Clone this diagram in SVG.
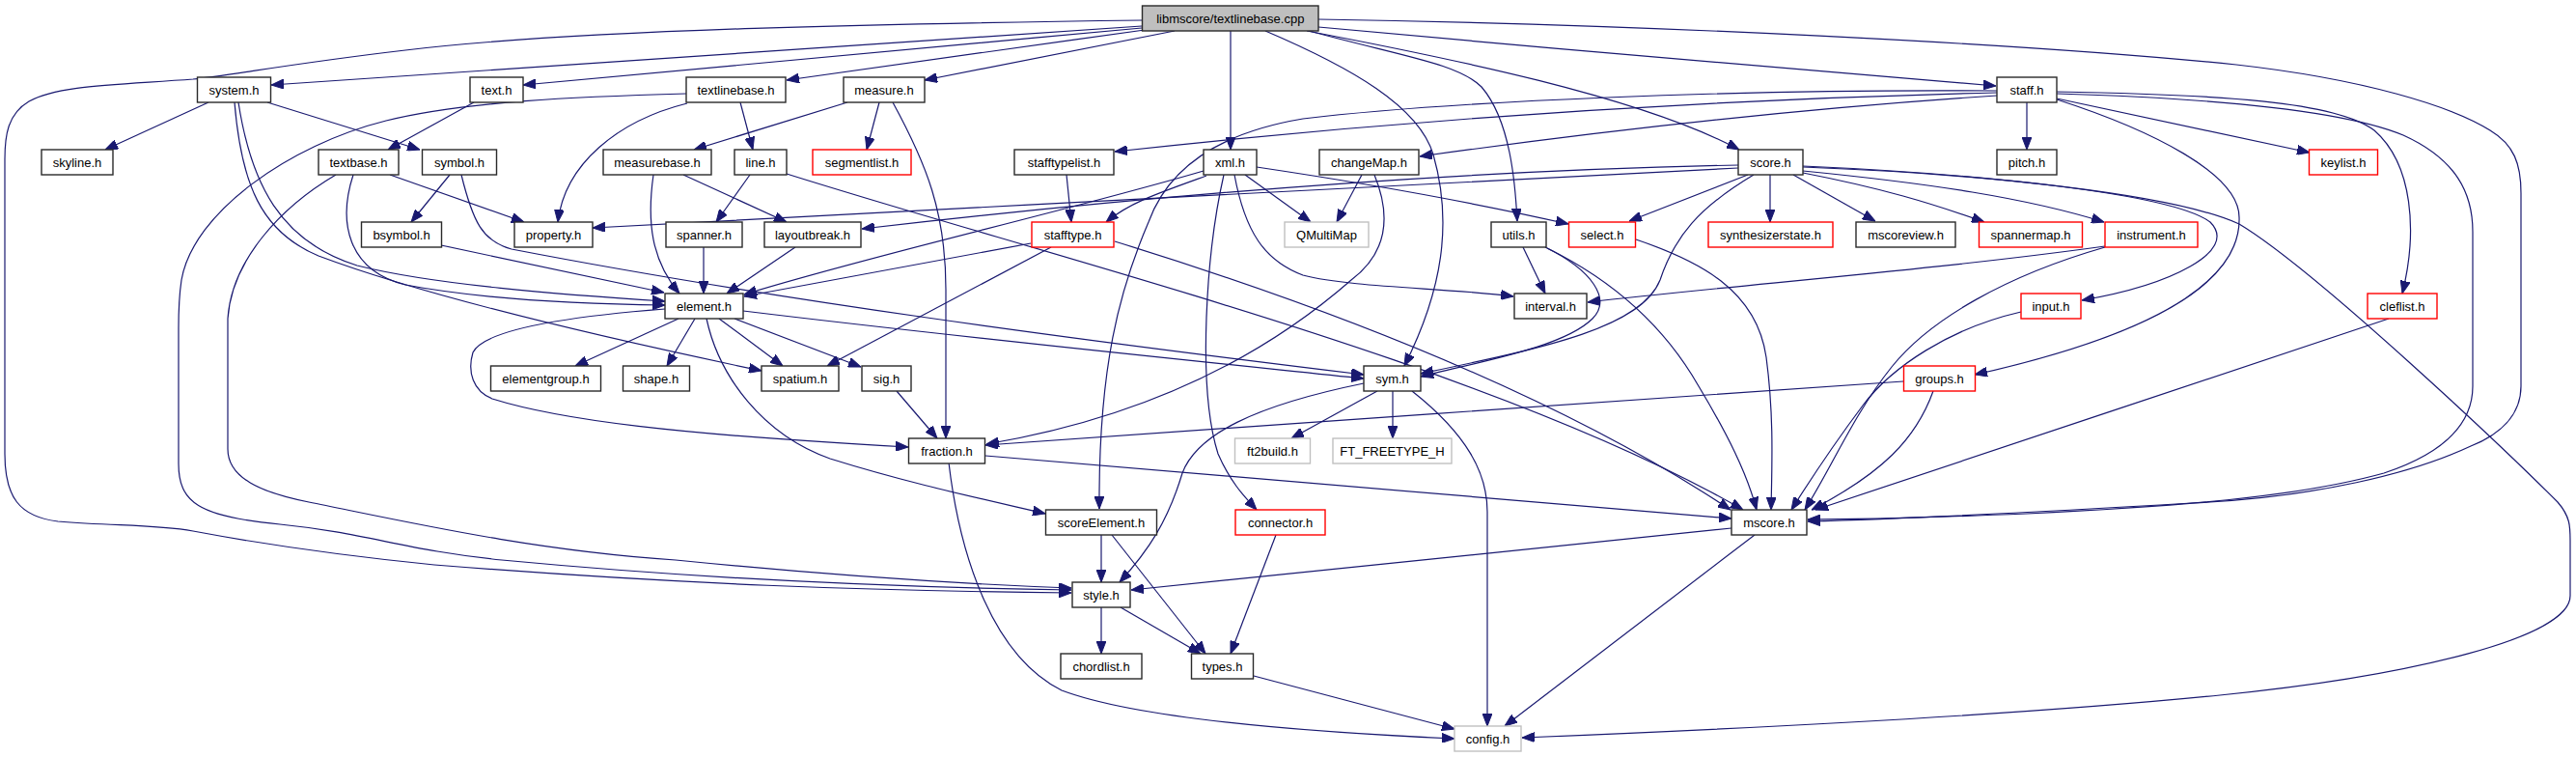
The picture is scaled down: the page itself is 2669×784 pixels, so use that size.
<svg xmlns="http://www.w3.org/2000/svg" width="2669" height="784" viewBox="0 0 2669 784">
<style>
rect{stroke-width:1.4}
.n rect{fill:#fff;stroke:#2a2a2a}
.r rect{fill:#fff;stroke:#ff0000}
.g rect{fill:#fff;stroke:#c0c0c0}
.root rect{fill:#bfbfbf;stroke:#2a2a2a}
text{font-family:"Liberation Sans",Arial,sans-serif;font-size:13px;fill:#000;text-anchor:middle}
#edges path{fill:none;stroke:#191970;stroke-width:1.2;marker-end:url(#ah)}
</style>
<defs>
<marker id="ah" viewBox="0 0 13 10" refX="13" refY="5" markerWidth="13" markerHeight="10" markerUnits="userSpaceOnUse" orient="auto">
<path d="M0,0 L13,5 L0,10 z" fill="#191970" stroke="#191970" stroke-width="1"/>
</marker>
</defs>
<rect width="2669" height="784" fill="#fff"/>
<g id="edges">
<path d="M1183,21 C950,24 600,30 420,52 C300,66 240,78 200,82 C120,88 60,88 30,105 C8,118 5,140 5,165 L5,470 C5,515 20,535 60,540 C120,545 160,543 200,550 C280,565 350,575 450,585 C700,605 900,612 1110,614"/>
<path d="M1183,27 C900,45 600,65 281,88"/>
<path d="M1183,29 C950,50 700,75 542,88"/>
<path d="M1186,31 C1050,50 900,70 815,83"/>
<path d="M1217,32 L958,83"/>
<path d="M1275,32 L1275,155"/>
<path d="M1311,32 C1400,70 1470,110 1485,160 C1505,230 1495,300 1455,379"/>
<path d="M1349,30 C1450,58 1510,65 1535,90 C1565,125 1570,190 1572,229"/>
<path d="M1354,32 C1500,60 1700,100 1802,155"/>
<path d="M1366,28 C1600,50 1900,75 2068,89"/>
<path d="M1366,20 C1700,25 2100,45 2317,67 C2450,82 2540,110 2580,135 C2605,150 2612,170 2612,200 L2612,400 C2612,430 2590,450 2560,462 C2500,490 2400,515 2271,521 C2120,530 1980,537 1873,540"/>
<path d="M2069,96 C1700,105 1400,130 1155,157"/>
<path d="M2069,99 C1900,110 1700,130 1471,162"/>
<path d="M2069,94 C1800,92 1500,105 1350,123 C1260,138 1210,175 1190,230 C1160,300 1138,380 1139,527"/>
<path d="M2100,106 L2100,155"/>
<path d="M2131,102 L2393,158"/>
<path d="M2131,95 C2300,98 2420,105 2460,135 C2500,170 2505,240 2489,304"/>
<path d="M2131,97 C2300,102 2430,115 2490,140 C2545,165 2562,200 2562,240 L2562,400 C2562,440 2530,470 2470,490 C2380,515 2250,525 2100,532 C2000,536 1930,538 1873,538"/>
<path d="M2131,103 C2230,135 2320,180 2320,225 C2322,280 2260,340 2046,388"/>
<path d="M1801,171 C1600,175 1300,190 893,237"/>
<path d="M1801,174 C1500,190 1000,215 614,236"/>
<path d="M1811,181 L1688,229"/>
<path d="M1834,181 L1834,230"/>
<path d="M1858,181 L1943,229"/>
<path d="M1868,179 C1950,195 2000,210 2056,230"/>
<path d="M1868,177 C2000,190 2100,205 2180,230"/>
<path d="M1868,172 C2050,180 2250,200 2290,230 C2320,260 2250,295 2157,311"/>
<path d="M1868,173 C2050,180 2250,200 2320,232 C2400,280 2600,470 2650,520 C2663,535 2663,545 2663,560 L2663,617 C2663,660 2500,700 2300,720 C2100,740 1800,755 1577,764"/>
<path d="M1817,181 C1760,215 1735,245 1720,290 C1700,340 1600,360 1472,387"/>
<path d="M1578,256 L1601,304"/>
<path d="M1601,256 C1650,280 1670,310 1650,330 C1620,360 1530,375 1472,390"/>
<path d="M1603,257 C1660,285 1720,330 1760,400 C1790,450 1810,490 1820,528"/>
<path d="M1695,248 C1760,270 1820,300 1830,370 C1838,430 1836,480 1835,528"/>
<path d="M2181,255 C2000,280 1800,295 1645,313"/>
<path d="M2181,256 C2080,285 2000,330 1960,380 C1920,430 1900,480 1870,528"/>
<path d="M2094,323 C2020,340 1960,380 1930,420 C1900,460 1880,490 1856,528"/>
<path d="M2003,405 C1985,455 1950,490 1877,528"/>
<path d="M1972,395 C1700,415 1300,440 1021,461"/>
<path d="M2475,330 C2300,390 2050,470 1881,528"/>
<path d="M1411,181 L1385,230"/>
<path d="M1424,181 C1440,220 1440,260 1400,290 C1320,360 1200,430 1022,460"/>
<path d="M1247,177 C1100,220 900,265 771,305"/>
<path d="M1250,182 C1200,200 1170,210 1146,230"/>
<path d="M1290,181 L1358,230"/>
<path d="M1302,173 C1450,195 1550,215 1625,232"/>
<path d="M1279,181 C1290,240 1310,270 1350,285 C1400,298 1500,298 1568,307"/>
<path d="M1268,181 C1250,260 1240,400 1262,470 C1275,500 1290,515 1302,528"/>
<path d="M1105,181 L1110,230"/>
<path d="M1068,252 L771,307"/>
<path d="M1089,256 L857,379"/>
<path d="M1155,250 C1350,310 1600,400 1793,528"/>
<path d="M777,181 L742,230"/>
<path d="M815,180 C1100,270 1550,380 1806,528"/>
<path d="M878,106 L719,155"/>
<path d="M911,106 L898,155"/>
<path d="M925,106 C960,170 980,220 980,300 L980,454"/>
<path d="M677,181 C670,230 675,270 704,304"/>
<path d="M708,181 L815,230"/>
<path d="M729,256 L729,304"/>
<path d="M824,256 L753,304"/>
<path d="M767,106 L780,155"/>
<path d="M712,107 C640,125 585,170 578,230"/>
<path d="M711,97 C600,100 480,105 400,125 C300,150 200,220 188,290 C185,310 185,330 185,340 L185,480 C185,520 205,535 290,543 C380,552 420,570 520,580 C700,597 900,608 1110,611"/>
<path d="M404,181 L543,230"/>
<path d="M366,181 C350,230 360,280 420,295 C500,310 600,315 689,316"/>
<path d="M348,181 C290,215 240,270 236,330 L236,465 C236,495 270,510 320,520 C420,540 550,570 700,580 C850,595 1000,605 1110,609"/>
<path d="M491,106 L402,155"/>
<path d="M216,106 L109,155"/>
<path d="M277,106 L435,155"/>
<path d="M247,106 C260,190 290,250 370,275 C450,295 580,305 689,312"/>
<path d="M243,106 C250,190 270,240 330,265 C450,310 650,355 789,384"/>
<path d="M466,181 L426,230"/>
<path d="M478,181 C490,230 500,250 530,258 C800,310 1100,350 1413,388"/>
<path d="M457,254 L688,303"/>
<path d="M703,330 L596,379"/>
<path d="M720,330 L691,379"/>
<path d="M745,330 L811,379"/>
<path d="M761,330 L892,380"/>
<path d="M770,322 C1000,350 1250,375 1413,392"/>
<path d="M689,320 C560,330 500,345 490,365 C484,385 490,405 510,413 C580,435 700,450 941,463"/>
<path d="M732,330 C745,390 790,450 860,475 C940,500 1010,515 1083,532"/>
<path d="M929,405 L971,454"/>
<path d="M1021,472 L1794,537"/>
<path d="M983,479 C995,580 1030,680 1100,715 C1180,745 1350,758 1507,765"/>
<path d="M1427,405 L1338,454"/>
<path d="M1443,405 L1443,454"/>
<path d="M1463,405 C1520,450 1541,490 1541,530 L1541,752"/>
<path d="M1413,397 C1300,420 1240,450 1225,490 C1210,540 1190,570 1160,603"/>
<path d="M1794,547 L1172,611"/>
<path d="M1818,554 L1559,752"/>
<path d="M1141,554 L1141,603"/>
<path d="M1152,554 L1249,677"/>
<path d="M1322,554 L1275,677"/>
<path d="M1141,629 L1141,677"/>
<path d="M1161,629 L1244,677"/>
<path d="M1299,700 L1507,755"/>
</g>
<g id="root" class="root"><rect x="1183.5" y="6" width="182.5" height="26"/><text x="1274.8" y="23.5">libmscore/textlinebase.cpp</text></g>
<g id="system_h" class="n"><rect x="204.5" y="80" width="76" height="26"/><text x="242.5" y="97.5">system.h</text></g>
<g id="text_h" class="n"><rect x="487" y="80" width="55" height="26"/><text x="514.5" y="97.5">text.h</text></g>
<g id="textlinebase_h" class="n"><rect x="711" y="80" width="103" height="26"/><text x="762.5" y="97.5">textlinebase.h</text></g>
<g id="measure_h" class="n"><rect x="874" y="80" width="84" height="26"/><text x="916" y="97.5">measure.h</text></g>
<g id="staff_h" class="n"><rect x="2069" y="80" width="62" height="26"/><text x="2100" y="97.5">staff.h</text></g>
<g id="skyline_h" class="n"><rect x="43" y="155" width="74" height="26"/><text x="80" y="172.5">skyline.h</text></g>
<g id="textbase_h" class="n"><rect x="330" y="155" width="83" height="26"/><text x="371.5" y="172.5">textbase.h</text></g>
<g id="symbol_h" class="n"><rect x="437.5" y="155" width="77" height="26"/><text x="476" y="172.5">symbol.h</text></g>
<g id="measurebase_h" class="n"><rect x="625" y="155" width="112" height="26"/><text x="681" y="172.5">measurebase.h</text></g>
<g id="line_h" class="n"><rect x="761" y="155" width="54" height="26"/><text x="788" y="172.5">line.h</text></g>
<g id="segmentlist_h" class="r"><rect x="842" y="155" width="102" height="26"/><text x="893" y="172.5">segmentlist.h</text></g>
<g id="stafftypelist_h" class="n"><rect x="1051" y="155" width="103" height="26"/><text x="1102.5" y="172.5">stafftypelist.h</text></g>
<g id="xml_h" class="n"><rect x="1247" y="155" width="55" height="26"/><text x="1274.5" y="172.5">xml.h</text></g>
<g id="changeMap_h" class="n"><rect x="1367" y="155" width="103" height="26"/><text x="1418.5" y="172.5">changeMap.h</text></g>
<g id="score_h" class="n"><rect x="1801" y="155" width="67" height="26"/><text x="1834.5" y="172.5">score.h</text></g>
<g id="pitch_h" class="n"><rect x="2069" y="155" width="62" height="26"/><text x="2100" y="172.5">pitch.h</text></g>
<g id="keylist_h" class="r"><rect x="2392.5" y="155" width="71" height="26"/><text x="2428" y="172.5">keylist.h</text></g>
<g id="bsymbol_h" class="n"><rect x="374.5" y="230" width="83" height="26"/><text x="416" y="247.5">bsymbol.h</text></g>
<g id="property_h" class="n"><rect x="533" y="230" width="81" height="26"/><text x="573.5" y="247.5">property.h</text></g>
<g id="spanner_h" class="n"><rect x="690" y="230" width="79" height="26"/><text x="729.5" y="247.5">spanner.h</text></g>
<g id="layoutbreak_h" class="n"><rect x="792" y="230" width="100" height="26"/><text x="842" y="247.5">layoutbreak.h</text></g>
<g id="stafftype_h" class="r"><rect x="1069" y="230" width="85" height="26"/><text x="1111.5" y="247.5">stafftype.h</text></g>
<g id="QMultiMap" class="g"><rect x="1331" y="230" width="87" height="26"/><text x="1374.5" y="247.5">QMultiMap</text></g>
<g id="utils_h" class="n"><rect x="1545" y="230" width="57" height="26"/><text x="1573.5" y="247.5">utils.h</text></g>
<g id="select_h" class="r"><rect x="1625.5" y="230" width="69" height="26"/><text x="1660" y="247.5">select.h</text></g>
<g id="synthesizerstate_h" class="r"><rect x="1770" y="230" width="129" height="26"/><text x="1834.5" y="247.5">synthesizerstate.h</text></g>
<g id="mscoreview_h" class="n"><rect x="1923" y="230" width="103" height="26"/><text x="1974.5" y="247.5">mscoreview.h</text></g>
<g id="spannermap_h" class="r"><rect x="2050.5" y="230" width="107" height="26"/><text x="2104" y="247.5">spannermap.h</text></g>
<g id="instrument_h" class="r"><rect x="2181" y="230" width="96" height="26"/><text x="2229" y="247.5">instrument.h</text></g>
<g id="element_h" class="n"><rect x="689" y="304" width="81" height="26"/><text x="729.5" y="321.5">element.h</text></g>
<g id="interval_h" class="n"><rect x="1569" y="304" width="75" height="26"/><text x="1606.5" y="321.5">interval.h</text></g>
<g id="input_h" class="r"><rect x="2094" y="304" width="62" height="26"/><text x="2125" y="321.5">input.h</text></g>
<g id="cleflist_h" class="r"><rect x="2453" y="304" width="72" height="26"/><text x="2489" y="321.5">cleflist.h</text></g>
<g id="elementgroup_h" class="n"><rect x="508.5" y="379" width="114" height="26"/><text x="565.5" y="396.5">elementgroup.h</text></g>
<g id="shape_h" class="n"><rect x="645.5" y="379" width="69" height="26"/><text x="680" y="396.5">shape.h</text></g>
<g id="spatium_h" class="n"><rect x="789" y="379" width="80" height="26"/><text x="829" y="396.5">spatium.h</text></g>
<g id="sig_h" class="n"><rect x="893" y="379" width="51" height="26"/><text x="918.5" y="396.5">sig.h</text></g>
<g id="sym_h" class="n"><rect x="1413" y="379" width="59" height="26"/><text x="1442.5" y="396.5">sym.h</text></g>
<g id="groups_h" class="r"><rect x="1972.5" y="379" width="74" height="26"/><text x="2009.5" y="396.5">groups.h</text></g>
<g id="fraction_h" class="n"><rect x="941.5" y="454" width="79" height="26"/><text x="981" y="471.5">fraction.h</text></g>
<g id="ft2build_h" class="g"><rect x="1279.5" y="454" width="78" height="26"/><text x="1318.5" y="471.5">ft2build.h</text></g>
<g id="FT_FREETYPE_H" class="g"><rect x="1381" y="454" width="123" height="26"/><text x="1442.5" y="471.5">FT_FREETYPE_H</text></g>
<g id="scoreElement_h" class="n"><rect x="1083.5" y="528" width="115" height="26"/><text x="1141" y="545.5">scoreElement.h</text></g>
<g id="connector_h" class="r"><rect x="1280" y="528" width="93" height="26"/><text x="1326.5" y="545.5">connector.h</text></g>
<g id="mscore_h" class="n"><rect x="1794" y="528" width="78" height="26"/><text x="1833" y="545.5">mscore.h</text></g>
<g id="style_h" class="n"><rect x="1111" y="603" width="60" height="26"/><text x="1141" y="620.5">style.h</text></g>
<g id="chordlist_h" class="n"><rect x="1099" y="677" width="84" height="26"/><text x="1141" y="694.5">chordlist.h</text></g>
<g id="types_h" class="n"><rect x="1234.5" y="677" width="64" height="26"/><text x="1266.5" y="694.5">types.h</text></g>
<g id="config_h" class="g"><rect x="1507" y="752" width="69" height="26"/><text x="1541.5" y="769.5">config.h</text></g>
</svg>
